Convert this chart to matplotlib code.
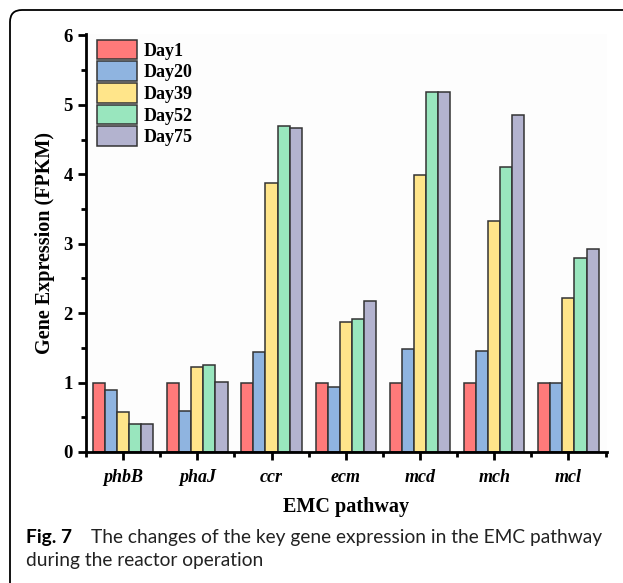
import numpy as np
import matplotlib
matplotlib.use("Agg")
import matplotlib.pyplot as plt
from matplotlib.patches import FancyBboxPatch
from matplotlib.transforms import IdentityTransform
from matplotlib.ticker import MultipleLocator, FixedLocator

# gene expression (FPKM), relative to Day1
genes = ["phbB", "phaJ", "ccr", "ecm", "mcd", "mch", "mcl"]
days = ["Day1", "Day20", "Day39", "Day52", "Day75"]
day1 = [1.00, 1.00, 1.00, 1.00, 1.00, 1.00, 1.00]
day20 = [0.90, 0.59, 1.44, 0.94, 1.49, 1.45, 1.00]
day39 = [0.58, 1.22, 3.88, 1.87, 3.99, 3.33, 2.22]
day52 = [0.41, 1.25, 4.69, 1.91, 5.19, 4.11, 2.80]
day75 = [0.40, 1.01, 4.66, 2.17, 5.18, 4.85, 2.93]
colors = ["#FF7A7A", "#8FB4E0", "#FFE58A", "#99E6BE", "#B3B3CF"]

W, H = 623, 583
fig = plt.figure(figsize=(W / 100, H / 100), dpi=100)
ax = fig.add_axes([86 / W, (H - 452) / H, 521 / W, 418 / H])

serif = "Liberation Serif"
series = [day1, day20, day39, day52, day75]
x = np.arange(len(genes))
bw = 0.163
for i, (vals, lab, c) in enumerate(zip(series, days, colors)):
    ax.bar(x + (i - 2) * bw, vals, bw, color=c, edgecolor="#333333",
           linewidth=1.1, label=lab, zorder=2)

ax.set_xlim(-0.5, 6.52)
ax.set_ylim(0, 6.02)
ax.set_facecolor("#FDFDFD")
for s in ["top", "right"]:
    ax.spines[s].set_visible(False)
for s in ["left", "bottom"]:
    ax.spines[s].set_linewidth(2)
    ax.spines[s].set_color("black")

ax.yaxis.set_major_locator(FixedLocator([0, 1, 2, 3, 4, 5, 6]))
ax.yaxis.set_minor_locator(MultipleLocator(0.5))
ax.set_xticks(x)
ax.xaxis.set_minor_locator(FixedLocator(np.arange(-0.5, 7, 1.0)))
ax.tick_params(axis="both", which="major", length=6, width=2, direction="out")
ax.tick_params(axis="both", which="minor", length=3.5, width=2, direction="out")

ax.set_yticklabels([str(v) for v in range(7)], fontfamily=serif,
                   fontweight="bold", fontsize=13.5)
ax.set_xticklabels(genes, fontfamily=serif, fontweight="bold",
                   fontstyle="italic", fontsize=13)
ax.tick_params(axis="x", pad=6)

ax.set_ylabel("Gene Expression (FPKM)", fontfamily=serif,
              fontweight="bold", fontsize=14.5, labelpad=6)
ax.set_xlabel("EMC pathway", fontfamily=serif, fontweight="bold",
              fontsize=14.5, labelpad=8)

leg = ax.legend(loc="upper left", bbox_to_anchor=(0.015, 0.995), frameon=False,
                prop={"family": serif, "weight": "bold", "size": 13},
                handlelength=2.2, handleheight=1.3, handletextpad=0.35,
                labelspacing=0.1, borderaxespad=0.0, borderpad=0.2)
for h in leg.legend_handles:
    h.set_edgecolor("#333333")
    h.set_linewidth(1.1)

# figure caption
cap = "Lato"
fig.text(26 / W, 1 - 543 / H, "Fig. 7", fontfamily=cap,
         fontweight="bold", fontsize=13.8, va="baseline")
fig.text(91 / W, 1 - 543 / H,
         "The changes of the key gene expression in the EMC pathway",
         fontfamily=cap, fontsize=13.8, va="baseline", color="#222222")
fig.text(26 / W, 1 - 566 / H, "during the reactor operation",
         fontfamily=cap, fontsize=13.8, va="baseline", color="#222222")

# rounded frame around the figure panel
frame = FancyBboxPatch((10, -12), 700, H - 10 + 12,
                       boxstyle="round,pad=0,rounding_size=12",
                       transform=IdentityTransform(), fill=False,
                       edgecolor="black", linewidth=1.3, clip_on=False)
fig.patches.append(frame)

fig.savefig("out.png", dpi=100)
